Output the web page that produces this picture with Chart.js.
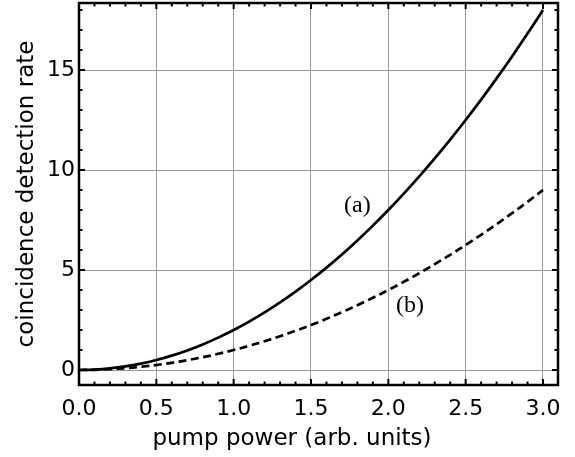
<!DOCTYPE html>
<html><head><meta charset="utf-8">
<script src="https://cdn.jsdelivr.net/npm/chart.js@4/dist/chart.umd.min.js"></script>
<style>html,body{margin:0;padding:0;background:#fff;}#wrap{width:575px;height:457px;}</style>
</head><body><div id="wrap"><canvas id="c" width="575" height="457"></canvas></div>
<script>
const pumpPower = [0,0.1,0.2,0.3,0.4,0.5,0.6,0.7,0.8,0.9,1.0,1.1,1.2,1.3,1.4,1.5,1.6,1.7,1.8,1.9,2.0,2.1,2.2,2.3,2.4,2.5,2.6,2.7,2.8,2.9,3.0];
const rateA = [0,0.02,0.08,0.18,0.32,0.5,0.72,0.98,1.28,1.62,2,2.42,2.88,3.38,3.92,4.5,5.12,5.78,6.48,7.22,8,8.82,9.68,10.58,11.52,12.5,13.52,14.58,15.68,16.82,18];
const rateB = [0,0.01,0.04,0.09,0.16,0.25,0.36,0.49,0.64,0.81,1,1.21,1.44,1.69,1.96,2.25,2.56,2.89,3.24,3.61,4,4.41,4.84,5.29,5.76,6.25,6.76,7.29,7.84,8.41,9];
const xTicks = [0,0.5,1.0,1.5,2.0,2.5,3.0];
const yTicks = [0,5,10,15];
const curveLabels = [{text:'(a)', x:1.8, y:8.2},{text:'(b)', x:2.14, y:3.2}];
const xTitle = 'pump power (arb. units)';

const frame = {
  id:'frame',
  afterDraw(chart){
    const {ctx, chartArea:a, scales:{x,y}} = chart;
    ctx.save();
    ctx.strokeStyle='#000'; ctx.lineWidth=2;
    for(let i=0;i<=31;i++){
      const v=i/10, px=x.getPixelForValue(v);
      if(px>a.right) break;
      const L = (i%5===0)?6:3.5;
      ctx.beginPath();ctx.moveTo(px,a.bottom);ctx.lineTo(px,a.bottom-L);ctx.stroke();
      ctx.beginPath();ctx.moveTo(px,a.top);ctx.lineTo(px,a.top+L);ctx.stroke();
    }
    for(let i=0;i<=18;i++){
      const py=y.getPixelForValue(i);
      const L = (i%5===0)?6:3.5;
      ctx.beginPath();ctx.moveTo(a.left,py);ctx.lineTo(a.left+L,py);ctx.stroke();
      ctx.beginPath();ctx.moveTo(a.right,py);ctx.lineTo(a.right-L,py);ctx.stroke();
    }
    ctx.lineWidth=2.5;
    ctx.strokeRect(a.left,a.top,a.right-a.left,a.bottom-a.top);
    ctx.fillStyle='#000';
    ctx.font='24px "Liberation Serif", "DejaVu Serif", serif';
    ctx.textAlign='center'; ctx.textBaseline='middle';
    for(const l of curveLabels){
      ctx.fillText(l.text, x.getPixelForValue(l.x), y.getPixelForValue(l.y));
    }
    ctx.font='23px "DejaVu Sans", sans-serif';
    ctx.textBaseline='alphabetic';
    ctx.fillText(xTitle, 292, 445);
    ctx.restore();
  }
};

new Chart(document.getElementById('c'),{
  type:'line',
  data:{
    labels: pumpPower,
    datasets:[
      {data: pumpPower.map((p,i)=>({x:p,y:rateA[i]})), borderColor:'#000', borderWidth:2.7, pointRadius:0, tension:0.4, fill:false},
      {data: pumpPower.map((p,i)=>({x:p,y:rateB[i]})), borderColor:'#000', borderWidth:2.7, borderDash:[8,4.5], pointRadius:0, tension:0.4, fill:false}
    ]
  },
  options:{
    responsive:false, animation:false,
    layout:{padding:{top:3,right:17,left:0,bottom:0}},
    plugins:{legend:{display:false}, tooltip:{enabled:false}},
    scales:{
      x:{type:'linear', min:0, max:3.097,
        afterBuildTicks(s){s.ticks = xTicks.map(v=>({value:v}));},
        afterFit(s){s.height=72; s.paddingLeft=0; s.paddingRight=0;},
        grid:{color:'#999', lineWidth:1, drawTicks:false},
        border:{display:false},
        ticks:{padding:11, color:'#000', font:{family:'"DejaVu Sans", sans-serif', size:22}, callback:v=>v.toFixed(1), maxRotation:0},
        title:{display:false}
      },
      y:{type:'linear', min:-0.75, max:18.35,
        afterBuildTicks(s){s.ticks = yTicks.map(v=>({value:v}));},
        afterFit(s){s.width=79; s.paddingTop=0; s.paddingBottom=0;},
        grid:{color:'#999', lineWidth:1, drawTicks:false},
        border:{display:false},
        ticks:{padding:4, color:'#000', font:{family:'"DejaVu Sans", sans-serif', size:22}},
        title:{display:true, text:'coincidence detection rate', color:'#000', font:{family:'"DejaVu Sans", sans-serif', size:23}, padding:{top:13,bottom:0}}
      }
    }
  },
  plugins:[frame]
});
</script></body></html>
